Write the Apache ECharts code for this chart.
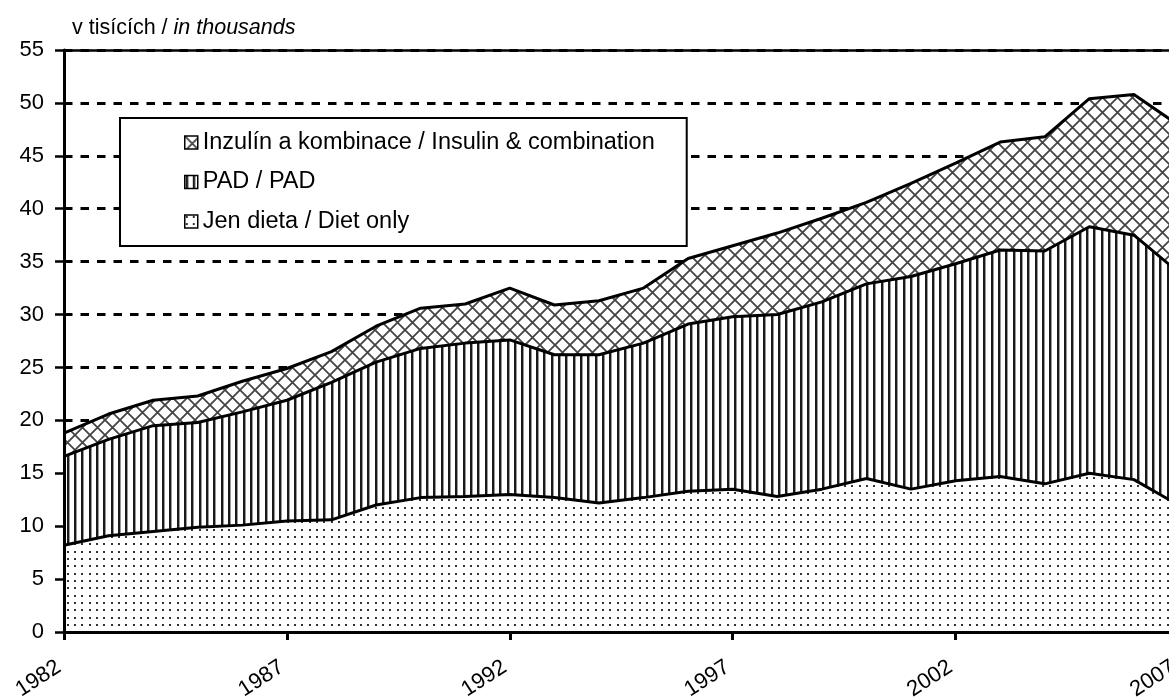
<!doctype html>
<html>
	<head>
		<meta charset="utf-8">
		<title>diabetes treatment</title>
		<style>
			html, body { margin: 0; padding: 0; background: #fff; }
			#main { width: 1169px; height: 698px; }
		</style>
	</head>
	<body>
		<div id="main"></div>
		<script src="https://cdn.jsdelivr.net/npm/echarts@6/dist/echarts.min.js"></script>
		<script>
			// years 1982 - 2007
			var years = ['1982', '1983', '1984', '1985', '1986', '1987', '1988', '1989', '1990', '1991', '1992', '1993', '1994',
				'1995', '1996', '1997', '1998', '1999', '2000', '2001', '2002', '2003', '2004', '2005', '2006', '2007'];
			// v tisících / in thousands
			var dietOnly = [8.2, 9.1, 9.5, 9.9, 10.1, 10.5, 10.6, 12.0, 12.7, 12.8, 13.0, 12.7, 12.2,
				12.7, 13.3, 13.5, 12.8, 13.5, 14.5, 13.5, 14.3, 14.7, 14.0, 15.0, 14.4, 12.0];
			var pad = [8.4, 9.1, 10.0, 9.9, 10.7, 11.4, 13.0, 13.5, 14.1, 14.5, 14.6, 13.5, 14.0,
				14.6, 15.8, 16.3, 17.2, 17.7, 18.4, 20.1, 20.5, 21.4, 22.0, 23.3, 23.1, 22.0];
			var insulin = [2.2, 2.4, 2.4, 2.5, 2.9, 3.0, 2.9, 3.4, 3.8, 3.7, 4.9, 4.7, 5.1,
				5.2, 6.2, 6.7, 7.7, 7.9, 7.7, 8.8, 9.5, 10.2, 10.8, 12.1, 13.3, 13.9];
			var names = ['Inzulín a kombinace / Insulin & combination', 'PAD / PAD', 'Jen dieta / Diet only'];

			var font = "'Liberation Sans', Arial, sans-serif";

			// hatch fills like the original b/w print
			function makePattern(kind) {
				var c = document.createElement('canvas');
				var s = kind == 'cross' ? 15 : 22;
				c.width = s;
				c.height = s;
				var ctx = c.getContext('2d');
				ctx.fillStyle = '#fff';
				ctx.fillRect(0, 0, s, s);
				var pos = [1, 8, 15];
				if (kind == 'dots') {
					ctx.fillStyle = '#333';
					for (var i = 0; i < 3; i++) {
						for (var j = 0; j < 3; j++) {
							ctx.fillRect(pos[i], pos[j], 2, 2);
						}
					}
				} else if (kind == 'vert') {
					ctx.fillStyle = '#1a1a1a';
					for (var k = 0; k < 3; k++) {
						ctx.fillRect(pos[k], 0, 2, s);
					}
					ctx.fillStyle = '#999';
					for (var k2 = 0; k2 < 3; k2++) {
						ctx.fillRect(pos[k2] + 2, 0, 1, s);
					}
				} else {
					ctx.strokeStyle = '#444';
					ctx.lineWidth = 1.8;
					ctx.beginPath();
					for (var m = -1; m <= 1; m++) {
						ctx.moveTo(m * s, 0);
						ctx.lineTo(m * s + s, s);
						ctx.moveTo(m * s + s, 0);
						ctx.lineTo(m * s, s);
					}
					ctx.stroke();
				}
				return { image: c, repeat: 'repeat' };
			}

			var fillDiet = makePattern('dots');
			var fillPad = makePattern('vert');
			var fillIns = makePattern('cross');

			function areaSeries(name, data, fill, z) {
				return {
					name: name,
					type: 'line',
					stack: 'total',
					data: data,
					z: z,
					showSymbol: false,
					symbol: 'none',
					itemStyle: { color: fill },
					lineStyle: { color: '#000', width: 3 },
					areaStyle: { color: fill, opacity: 1 },
					emphasis: { disabled: true }
				};
			}

			var myChart = echarts.init(document.getElementById('main'));

			var option = {
				animation: false,
				backgroundColor: '#fff',
				grid: {
					left: 64,
					top: 50,
					width: 1114.5,
					height: 582,
					containLabel: false,
					outerBoundsMode: 'none'
				},
				graphic: [{
					type: 'text',
					left: 72,
					top: 17,
					style: {
						text: '{a|v tisících / }{b|in thousands}',
						rich: {
							a: { fontSize: 21.5, fontFamily: font, fill: '#000' },
							b: { fontSize: 21.5, fontFamily: font, fontStyle: 'italic', fill: '#000' }
						}
					}
				}],
				legend: {
					orient: 'vertical',
					left: 120,
					top: 118,
					data: [
						{ name: names[0], itemStyle: { color: fillIns } },
						{ name: names[1], itemStyle: { color: fillPad } },
						{ name: names[2], itemStyle: { color: fillDiet } }
					],
					icon: 'rect',
					itemWidth: 13,
					itemHeight: 13,
					itemGap: 15.5,
					padding: [12.5, 32, 12.5, 64],
					backgroundColor: '#fff',
					borderColor: '#000',
					borderWidth: 2,
					borderRadius: 0,
					selectedMode: false,
					itemStyle: { borderColor: '#000', borderWidth: 1.5 },
					textStyle: { fontSize: 23.5, lineHeight: 24, color: '#000', fontFamily: font }
				},
				xAxis: [{
					type: 'category',
					data: years,
					boundaryGap: false,
					z: 10,
					axisLine: { onZero: false, lineStyle: { color: '#000', width: 3 } },
					axisTick: { interval: 4, length: 8, lineStyle: { color: '#000', width: 3 } },
					axisLabel: {
						interval: 4,
						rotate: 33,
						margin: 30,
						padding: [0, 6, 0, 0],
						fontSize: 22,
						color: '#000',
						fontFamily: font
					},
					splitLine: { show: false }
				}, {
					// solid frame line at 55
					type: 'category',
					data: years,
					position: 'top',
					boundaryGap: false,
					z: 10,
					axisLine: { onZero: false, lineStyle: { color: '#000', width: 2.5 } },
					axisTick: { show: false },
					axisLabel: { show: false },
					splitLine: { show: false }
				}],
				yAxis: [{
					type: 'value',
					min: 0,
					max: 55,
					interval: 5,
					position: 'left',
					z: 0,
					axisLine: { show: false },
					axisTick: { show: false },
					axisLabel: { show: false },
					splitLine: { lineStyle: { color: '#000', width: 3, type: [8.5, 8] } }
				}, {
					type: 'value',
					min: 0,
					max: 55,
					interval: 5,
					position: 'left',
					z: 10,
					axisLine: { show: true, onZero: false, lineStyle: { color: '#000', width: 3 } },
					axisTick: { show: true, length: 9, lineStyle: { color: '#000', width: 2.5 } },
					axisLabel: { margin: 20, fontSize: 22, color: '#000', fontFamily: font },
					splitLine: { show: false }
				}],
				series: [
					areaSeries(names[2], dietOnly, fillDiet, 4),
					areaSeries(names[1], pad, fillPad, 3),
					areaSeries(names[0], insulin, fillIns, 2)
				]
			};
			myChart.setOption(option);
		</script>
	</body>
</html>
